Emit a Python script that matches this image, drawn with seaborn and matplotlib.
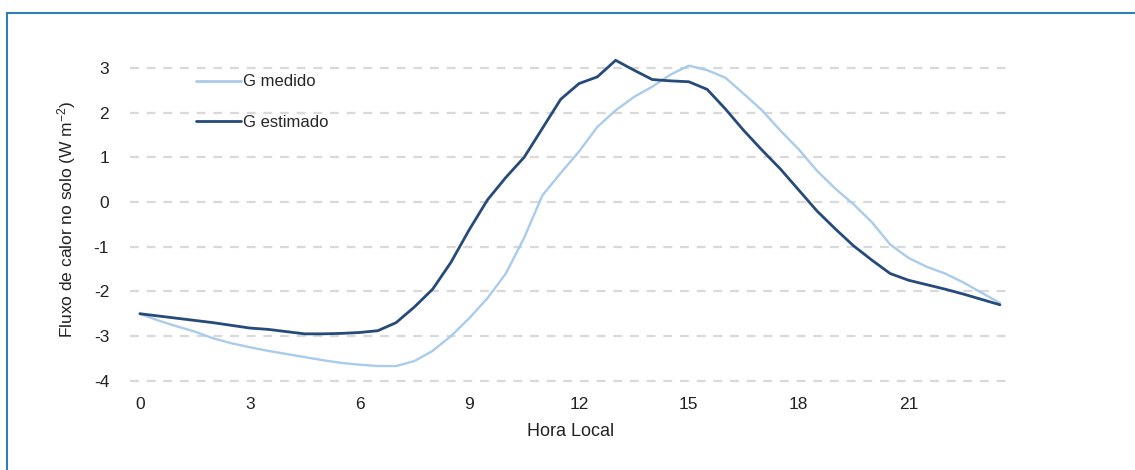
import matplotlib
matplotlib.use('Agg')
import matplotlib.pyplot as plt
import seaborn as sns
import pandas as pd
import numpy as np
from matplotlib.patches import Rectangle

# half-hourly local time
hora = [i * 0.5 for i in range(48)]

g_medido = [-2.50, -2.65, -2.78, -2.90, -3.05, -3.16, -3.25, -3.33, -3.40, -3.47,
            -3.54, -3.60, -3.64, -3.67, -3.67, -3.56, -3.33, -3.00, -2.60, -2.15,
            -1.60, -0.80, 0.15, 0.65, 1.13, 1.68, 2.05, 2.35, 2.58, 2.85,
            3.05, 2.95, 2.78, 2.42, 2.05, 1.60, 1.18, 0.70, 0.30, -0.05,
            -0.45, -0.95, -1.25, -1.45, -1.60, -1.80, -2.03, -2.26]

g_estimado = [-2.50, -2.55, -2.60, -2.65, -2.70, -2.76, -2.82, -2.85, -2.90, -2.95,
              -2.95, -2.94, -2.92, -2.88, -2.70, -2.35, -1.95, -1.35, -0.62, 0.05,
              0.55, 1.00, 1.65, 2.30, 2.65, 2.80, 3.17, 2.95, 2.74, 2.71,
              2.69, 2.52, 2.08, 1.60, 1.16, 0.74, 0.27, -0.20, -0.60, -0.98,
              -1.30, -1.60, -1.75, -1.85, -1.95, -2.06, -2.18, -2.30]

series_names = ['G medido', 'G estimado']
x_ticks = [0, 3, 6, 9, 12, 15, 18, 21]
y_ticks = [-4, -3, -2, -1, 0, 1, 2, 3]

df = pd.DataFrame({
    'Hora': hora * 2,
    'G': g_medido + g_estimado,
    'Serie': [series_names[0]] * len(hora) + [series_names[1]] * len(hora),
})

sns.set_style('white')
plt.rcParams['font.family'] = ['Liberation Sans', 'DejaVu Sans']
plt.rcParams['mathtext.fontset'] = 'custom'
plt.rcParams['mathtext.rm'] = 'Liberation Sans'
plt.rcParams['mathtext.it'] = 'Liberation Sans'
plt.rcParams['axes.unicode_minus'] = False

fig = plt.figure(figsize=(11.35, 4.7), dpi=100)
ax = fig.add_axes([130 / 1135, 1 - 383 / 470, 882 / 1135, (383 - 54.5) / 470])

palette = {'G medido': '#a9cbec', 'G estimado': '#264a7a'}
sns.lineplot(data=df, x='Hora', y='G', hue='Serie', palette=palette,
             linewidth=2, ax=ax, legend=False)
# thinner light line
ax.lines[0].set_linewidth(1.7)

ax.set_xlim(-0.27, 23.83)
ax.set_ylim(-4.05, 3.3)
ax.set_xticks(x_ticks)
ax.set_yticks(y_ticks)
ax.tick_params(axis='both', length=0, labelsize=12.5, colors='#222222')
ax.tick_params(axis='y', pad=15)
ax.tick_params(axis='x', pad=10)
ax.yaxis.grid(True, color='#d9d9d9', linestyle=(0, (4, 3.5)), linewidth=1.6)
ax.set_axisbelow(True)
for s in ax.spines.values():
    s.set_visible(False)

ax.set_xlabel('Hora Local', fontsize=13, color='#222222', labelpad=8)
ax.set_ylabel(r'Fluxo de calor no solo (W m$^{-2}$)', fontsize=12.5,
              color='#222222', labelpad=11)

handles = [plt.Line2D([], [], color=palette[n], linewidth=2) for n in series_names]
ax.legend(handles, series_names, loc='upper left', bbox_to_anchor=(0.058, 0.985),
          frameon=False, fontsize=12, handlelength=2.7, handletextpad=0.1,
          labelspacing=1.55)

# border of the original figure box
fig.patches.append(Rectangle((7 / 1135, -0.1), 1.2, 1.1 - 12.5 / 470,
                             transform=fig.transFigure, fill=False,
                             edgecolor='#2f7fb5', linewidth=1.5))

fig.savefig('out.png', dpi=100)
